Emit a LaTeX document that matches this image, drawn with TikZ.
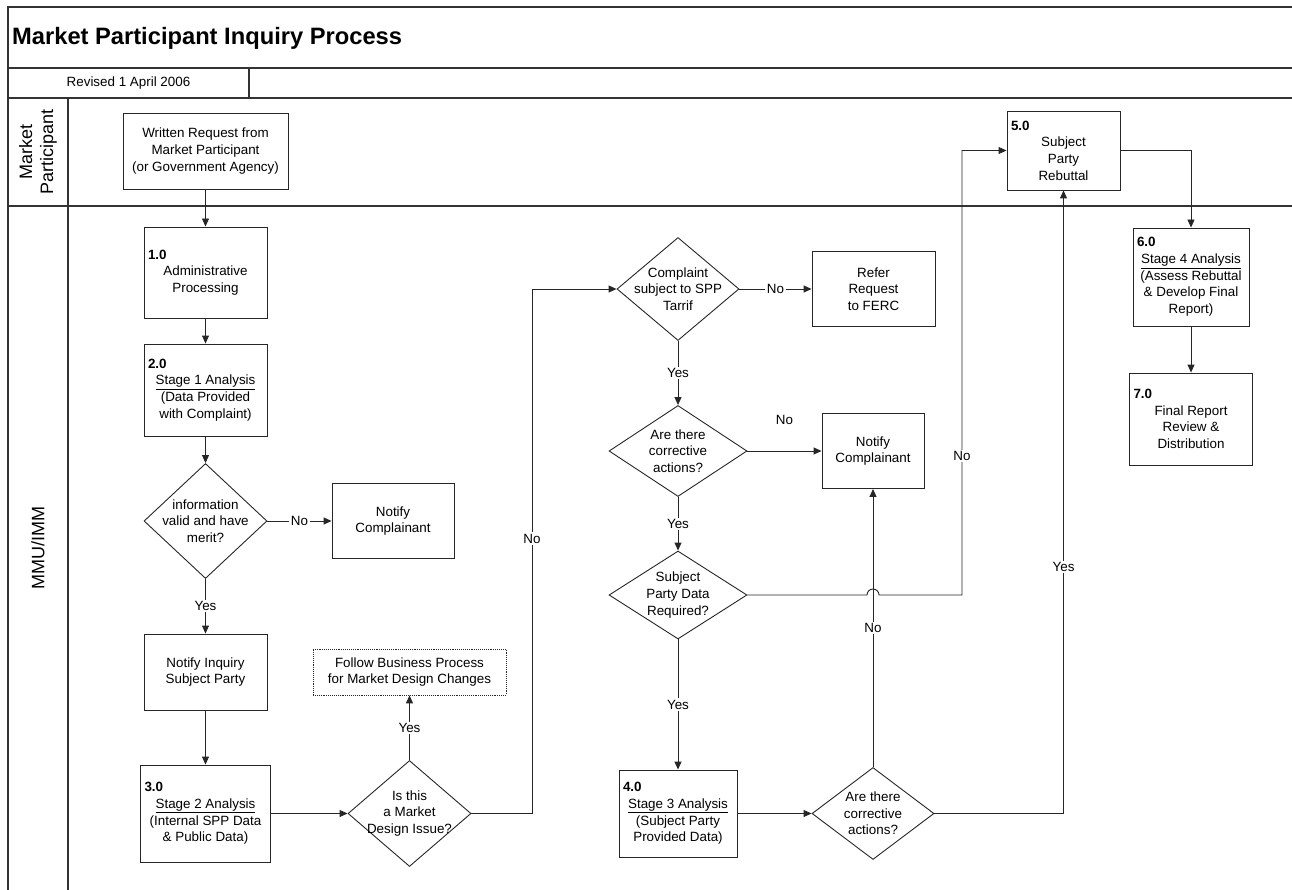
\documentclass[tikz,border=0pt]{standalone}
\usepackage{fontspec}
\setmainfont{Liberation Sans}
\usetikzlibrary{arrows.meta,shapes.geometric}

\begin{document}
\begin{tikzpicture}[x=1pt,y=-1pt,
  font=\fontsize{13.4}{16.7}\selectfont,
  frame/.style={line width=1.3pt,draw=black!80},
  box/.style={draw=black!85,line width=0.9pt,align=flush center,inner xsep=4pt,inner ysep=0pt},
  decision/.style={draw=black!85,line width=0.9pt,shape=diamond,align=center,inner sep=-10pt},
  flow/.style={draw=black!85,line width=0.9pt,-{Triangle[length=8pt,width=7pt]}},
  lbl/.style={fill=white,inner sep=1.5pt}]
\useasboundingbox (0,0) rectangle (1292,890);
\draw[frame] (1292,7) -- (8,7) -- (8,890);
\draw[frame] (8,68) -- (1292,68);
\draw[frame] (8,98) -- (1292,98);
\draw[frame] (8,206) -- (1292,206);
\draw[frame] (68,98) -- (68,890);
\draw[frame] (249,68) -- (249,98);
\node[anchor=west,inner sep=0pt,font=\fontsize{23.7}{28}\selectfont\bfseries] (title) at (12,38) {Market Participant Inquiry Process};
\node (revised) at (128.5,83) {Revised 1 April 2006};
\node[rotate=90,align=center,font=\fontsize{18}{21}\selectfont] (lanemp) at (38,152) {Market\\Participant};
\node[rotate=90,font=\fontsize{18}{21}\selectfont] (lanemmu) at (38,548) {MMU/IMM};

\node[box,minimum width=165pt,minimum height=76pt] (req) at (205.5,151) {Written Request from\\Market Participant\\(or Government Agency)};
\node[box,text width=115pt,minimum height=91pt] (s1) at (205.5,272.5) {\textbf{1.0}\hfill\null\\Administrative\\Processing};
\node[box,text width=115pt,minimum height=92pt] (s2) at (205.5,390) {\textbf{2.0}\hfill\null\\\underline{Stage 1 Analysis}\\(Data Provided\\with Complaint)};
\node[decision,minimum width=123pt,minimum height=115pt] (valid) at (205.5,521) {information\\valid and have\\merit?};
\node[box,minimum width=122pt,minimum height=75pt] (notify1) at (393,521) {Notify\\Complainant};
\node[box,minimum width=123pt,minimum height=76pt] (notifysp) at (205.5,672) {Notify Inquiry\\Subject Party};
\node[box,text width=122pt,minimum height=97pt] (s3) at (205.5,813.5) {\textbf{3.0}\hfill\null\\\underline{Stage 2 Analysis}\\(Internal SPP Data\\\& Public Data)};
\node[decision,minimum width=123pt,minimum height=106pt] (design) at (409.5,813.5) {Is this\\a Market\\Design Issue?};
\node[box,densely dotted,line width=0.7pt,minimum width=193pt,minimum height=46pt] (follow) at (409.5,672) {Follow Business Process\\for Market Design Changes};
\node[decision,minimum width=122pt,minimum height=103pt] (tariff) at (678,289) {Complaint\\subject to SPP\\Tarrif};
\node[box,minimum width=123pt,minimum height=75pt] (ferc) at (873.5,289) {Refer\\Request\\to FERC};
\node[decision,minimum width=138pt,minimum height=91pt] (corr1) at (678,451) {Are there\\corrective\\actions?};
\node[box,minimum width=102pt,minimum height=75pt] (notify2) at (873,451) {Notify\\Complainant};
\node[decision,minimum width=138pt,minimum height=88pt] (spdata) at (678,595) {Subject\\Party Data\\Required?};
\node[box,text width=110pt,minimum height=87pt] (s4) at (678,813.5) {\textbf{4.0}\hfill\null\\\underline{Stage 3 Analysis}\\(Subject Party\\Provided Data)};
\node[decision,minimum width=122pt,minimum height=92pt] (corr2) at (873,813.5) {Are there\\corrective\\actions?};
\node[box,text width=105pt,minimum height=79pt] (s5) at (1063.5,150.5) {\textbf{5.0}\hfill\null\\Subject\\Party\\Rebuttal};
\node[box,text width=108pt,minimum height=98pt] (s6) at (1191,277) {\textbf{6.0}\hfill\null\\\underline{Stage 4 Analysis}\\(Assess Rebuttal\\\& Develop Final\\Report)};
\node[box,text width=115pt,minimum height=92pt] (s7) at (1191,419) {\textbf{7.0}\hfill\null\\Final Report\\Review \&\\Distribution};
\coordinate (hop) at (notify2.south |- spdata.east);

\draw[flow] (req.south) -- (s1.north);
\draw[flow] (s1.south) -- (s2.north);
\draw[flow] (s2.south) -- (valid.north);
\draw[flow] (valid.east) -- node[lbl]{No} (notify1.west);
\draw[flow] (valid.south) -- node[lbl]{Yes} (notifysp.north);
\draw[flow] (notifysp.south) -- (s3.north);
\draw[flow] (s3.east) -- (design.west);
\draw[flow] (design.north) -- node[lbl]{Yes} (follow.south);
\draw[flow] (design.east) -- (532,813.5) |- node[lbl,pos=.262]{No} (tariff.west);
\draw[flow] (tariff.east) -- node[lbl]{No} (ferc.west);
\draw[flow] (tariff.south) -- node[lbl]{Yes} (corr1.north);
\draw[flow] (corr1.east) -- node[lbl,yshift=31pt]{No} (notify2.west);
\draw[flow] (corr1.south) -- node[lbl]{Yes} (spdata.north);
\draw[flow] (spdata.south) -- node[lbl]{Yes} (s4.north);
\draw[flow] (s4.east) -- (corr2.west);
\draw[flow] (corr2.north) -- node[lbl]{No} (notify2.south);
\draw[flow] (spdata.east) -- ([xshift=-6pt]hop) arc[start angle=180,end angle=0,radius=6pt] -- (962,595) |- node[lbl,pos=.156]{No} (s5.west);
\draw[flow] (corr2.east) -| node[lbl,pos=.698]{Yes} (s5.south);
\draw[flow] (s5.east) -| (s6.north);
\draw[flow] (s6.south) -- (s7.north);
\end{tikzpicture}
\end{document}
